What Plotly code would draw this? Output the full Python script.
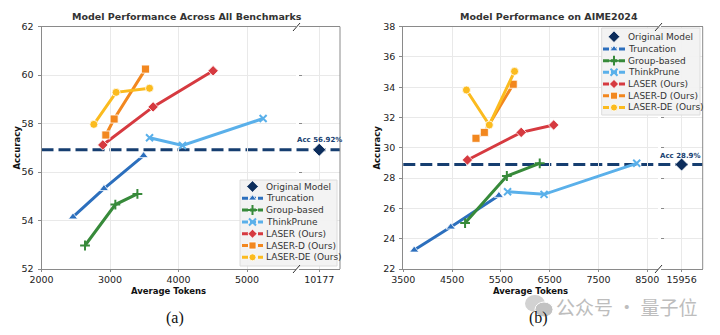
import plotly.graph_objects as go

W, H = 720, 335

# ---------------- data ----------------
SERIES = ["Truncation", "Group-based", "ThinkPrune", "LASER (Ours)", "LASER-D (Ours)", "LASER-DE (Ours)"]
COLORS = ["#2c6fbd", "#378a3a", "#5ab0ea", "#d63a40", "#f2871f", "#fbbb1f"]
SYMBOLS = ["triangle-up", "cross-thin", "x-thin", "diamond", "square", "circle"]
ORIG_NAME = "Original Model"

# Panel (a): all benchmarks
A_TRUNC_TOK = [2460, 2912, 3490]
A_TRUNC_ACC = [54.15, 55.32, 56.68]
A_GROUP_TOK = [2635, 3078, 3400]
A_GROUP_ACC = [52.97, 54.66, 55.10]
A_TP_TOK = [3577, 4058, 5235]
A_TP_ACC = [57.42, 57.10, 58.21]
A_LASER_TOK = [2895, 3629, 4505]
A_LASER_ACC = [57.12, 58.69, 60.18]
A_LASERD_TOK = [2939, 3060, 3518]
A_LASERD_ACC = [57.53, 58.19, 60.25]
A_LASERDE_TOK = [2764, 3089, 3577]
A_LASERDE_ACC = [57.97, 59.29, 59.46]
A_ORIG_TOK = 10177
A_ORIG_ACC = 56.92

# Panel (b): AIME2024
B_TRUNC_TOK = [3724, 4473, 5459]
B_TRUNC_ACC = [23.25, 24.77, 26.86]
B_GROUP_TOK = [4766, 5622, 6296]
B_GROUP_ACC = [25.03, 28.14, 28.98]
B_TP_TOK = [5637, 6385, 8284]
B_TP_ACC = [27.10, 26.93, 28.98]
B_LASER_TOK = [4814, 5916, 6582]
B_LASER_ACC = [29.20, 31.02, 31.51]
B_LASERD_TOK = [4990, 5161, 5753]
B_LASERD_ACC = [30.63, 31.02, 34.20]
B_LASERDE_TOK = [4794, 5263, 5780]
B_LASERDE_ACC = [33.82, 31.51, 35.05]
B_ORIG_TOK = 15956
B_ORIG_ACC = 28.9

A_XTICKS = [2000, 3000, 4000, 5000]
A_YTICKS = [52, 54, 56, 58, 60, 62]
B_XTICKS = [3500, 4500, 5500, 6500, 7500, 8500]
B_YTICKS = [22, 24, 26, 28, 30, 32, 34, 36, 38]

A_TITLE = "Model Performance Across All Benchmarks"
B_TITLE = "Model Performance on AIME2024"

A_DATA = [(A_TRUNC_TOK, A_TRUNC_ACC), (A_GROUP_TOK, A_GROUP_ACC), (A_TP_TOK, A_TP_ACC),
          (A_LASER_TOK, A_LASER_ACC), (A_LASERD_TOK, A_LASERD_ACC), (A_LASERDE_TOK, A_LASERDE_ACC)]
B_DATA = [(B_TRUNC_TOK, B_TRUNC_ACC), (B_GROUP_TOK, B_GROUP_ACC), (B_TP_TOK, B_TP_ACC),
          (B_LASER_TOK, B_LASER_ACC), (B_LASERD_TOK, B_LASERD_ACC), (B_LASERDE_TOK, B_LASERDE_ACC)]

# ---------------- layout helpers ----------------
FONT = "DejaVu Sans"
NAVY = "#0c2d5c"
DASHC = "#163e70"
SPINE = "#8a8a8a"
GRID = "#e9e9e9"

def px(x):
    return x / W

def py(y):
    return 1 - y / H

fig = go.Figure()

def add_series(data, xa, ya):
    for (tok, acc), name, col, sym in zip(data, SERIES, COLORS, SYMBOLS):
        thin = sym.endswith("thin")
        fig.add_trace(go.Scatter(
            x=tok, y=acc, mode="lines+markers", name=name, showlegend=False,
            xaxis=xa, yaxis=ya,
            line=dict(color=col, width=3),
            marker=dict(symbol=sym, size=8 if not thin else 7, color=col,
                        line=dict(color=col if thin else "white", width=2 if thin else 0.8)),
        ))

add_series(A_DATA, "x", "y")
add_series(B_DATA, "x3", "y3")

for tok, acc, xa, ya in [(A_ORIG_TOK, A_ORIG_ACC, "x2", "y2"), (B_ORIG_TOK, B_ORIG_ACC, "x4", "y4")]:
    fig.add_trace(go.Scatter(x=[tok], y=[acc], mode="markers", name=ORIG_NAME, showlegend=False,
                             xaxis=xa, yaxis=ya,
                             marker=dict(symbol="diamond", size=10, color=NAVY,
                                         line=dict(color="white", width=0.8))))

tickfont = dict(family=FONT, size=9.5, color="#222")
Ydom = [py(269), py(26.7)]

def xaxis(dom, rng, ticks, anchor):
    return dict(domain=dom, range=rng, tickvals=ticks, ticktext=[str(t) for t in ticks],
                showgrid=True, gridcolor=GRID, gridwidth=1, zeroline=False, automargin=False,
                showline=True, linecolor=SPINE, linewidth=1, mirror=True,
                ticks="outside", ticklen=2, tickcolor=SPINE, tickfont=tickfont, anchor=anchor)

def yaxis(rng, ticks, anchor, main=True, match=None):
    d = dict(domain=Ydom, range=rng, tickvals=ticks, showgrid=True, gridcolor=GRID, gridwidth=1,
             zeroline=False, anchor=anchor, tickfont=tickfont, automargin=False)
    if main:
        d.update(showline=True, linecolor=SPINE, linewidth=1, ticks="outside", ticklen=3,
                 tickcolor=SPINE, ticklabelstandoff=2)
    else:
        d.update(showline=False, showticklabels=False, ticks="inside", ticklen=3, tickcolor=SPINE)
    if match:
        d["matches"] = match
    return d

A_main = [px(41.5), px(296)]
A_sub = [px(298.5), px(340)]
B_main = [px(403.3), px(658)]
B_sub = [px(660.5), px(702.7)]

fig.update_layout(
    width=W, height=H, margin=dict(l=0, r=0, t=0, b=0, autoexpand=False),
    paper_bgcolor="white", plot_bgcolor="rgba(0,0,0,0)", showlegend=False,
    font=dict(family=FONT, color="#222"),
    xaxis=xaxis(A_main, [2000, 5715], A_XTICKS, "y"),
    yaxis=yaxis([52, 62], A_YTICKS, "x"),
    xaxis2=xaxis(A_sub, [A_ORIG_TOK - 300, A_ORIG_TOK + 300], [A_ORIG_TOK], "y2"),
    yaxis2=yaxis([52, 62], A_YTICKS, "x2", main=False, match="y"),
    xaxis3=xaxis(B_main, [3500, 8720], B_XTICKS, "y3"),
    yaxis3=yaxis([22, 38], B_YTICKS, "x3"),
    xaxis4=xaxis(B_sub, [B_ORIG_TOK - 300, B_ORIG_TOK + 300], [B_ORIG_TOK], "y4"),
    yaxis4=yaxis([22, 38], B_YTICKS, "x4", main=False, match="y3"),
    xaxis5=dict(domain=[0, 1], range=[0, W], visible=False, anchor="y5", automargin=False),
    yaxis5=dict(domain=[0, 1], range=[H, 0], visible=False, anchor="x5", automargin=False),
)

shapes = []
# right spines of the broken-axis stubs and break marks
for xs, ys in [("x2 domain", "y2 domain"), ("x4 domain", "y4 domain")]:
    shapes.append(dict(type="line", xref=xs, yref=ys, x0=1, x1=1, y0=0, y1=1,
                       line=dict(color=SPINE, width=1)))
for bx in [297, 659]:
    for (ya, yb) in [(31, 23), (273, 265)]:
        shapes.append(dict(type="line", xref="paper", yref="paper",
                           x0=px(bx - 4), x1=px(bx + 3), y0=py(ya), y1=py(yb),
                           line=dict(color="#333", width=1)))
# baseline dashed lines (original model accuracy)
for acc, yref, x0, x1 in [(A_ORIG_ACC, "y", 41.5, 340), (B_ORIG_ACC, "y3", 403.3, 702.7)]:
    shapes.append(dict(type="line", xref="paper", yref=yref, x0=px(x0), x1=px(x1), y0=acc, y1=acc,
                       layer="below", line=dict(color=DASHC, width=3, dash="12px,5px")))
# watermark icon (two chat bubbles)
shapes.append(dict(type="circle", xref="paper", yref="paper", x0=px(525), x1=px(545), y0=py(312), y1=py(295),
                   fillcolor="#d2d2d2", line=dict(width=0), layer="above"))
shapes.append(dict(type="circle", xref="paper", yref="paper", x0=px(535), x1=px(553), y0=py(317), y1=py(302),
                   fillcolor="#c2c2c2", line=dict(color="white", width=1), layer="above"))
fig.update_layout(shapes=shapes)

# ---------------- manual legends ----------------
def legend(box, rows_y, lx0, lx1, tx):
    x0, y0, x1, y1 = box
    fig.add_trace(go.Scatter(x=[x0, x1, x1, x0, x0], y=[y0, y0, y1, y1, y0], xaxis="x5", yaxis="y5",
                             mode="lines", fill="toself", fillcolor="rgba(242,242,242,0.92)",
                             line=dict(color="#dcdcdc", width=1), hoverinfo="skip", showlegend=False))
    names = [ORIG_NAME] + SERIES
    cols = [NAVY] + COLORS
    syms = ["diamond"] + SYMBOLS
    for i, (nm, c, s) in enumerate(zip(names, cols, syms)):
        yc = rows_y[i]
        xm = (lx0 + lx1) / 2
        if i > 0:
            fig.add_trace(go.Scatter(x=[lx0, lx1], y=[yc, yc], xaxis="x5", yaxis="y5", mode="lines",
                                     line=dict(color=c, width=3, dash="6px,2px"), hoverinfo="skip", showlegend=False))
        thin = s.endswith("thin")
        fig.add_trace(go.Scatter(x=[xm], y=[yc], xaxis="x5", yaxis="y5", mode="markers",
                                 marker=dict(symbol=s, size=(9 if i == 0 else 7), color=c,
                                             line=dict(color=c if thin else "white", width=2 if thin else 0.8)),
                                 hoverinfo="skip", showlegend=False))
        fig.add_annotation(x=px(tx), y=py(yc), xref="paper", yref="paper", text=nm, showarrow=False,
                           xanchor="left", yanchor="middle", borderpad=0,
                           font=dict(family=FONT, size=9, color="#333"))

legend((240, 180, 337, 266), [186.5, 198.3, 210, 222, 233.7, 245.5, 257.3], 242, 263, 265)
legend((601.7, 28, 700, 115), [36.7, 49, 60.7, 72.3, 84, 95.7, 107.5], 603, 625, 627)

# ---------------- text ----------------
def t(x, y, s, size, bold=False, color="#222", angle=0, fam=FONT):
    fig.add_annotation(x=px(x), y=py(y), xref="paper", yref="paper", showarrow=False,
                       text=f"<b>{s}</b>" if bold else s, textangle=angle,
                       xanchor="center", yanchor="middle", font=dict(family=fam, size=size, color=color))

t(186.5, 17, A_TITLE, 9.5, bold=True, color="#333")
t(548.7, 17, B_TITLE, 9.5, bold=True, color="#333")
t(168.5, 291, "Average Tokens", 8.5, bold=True, color="#111")
t(530.5, 291, "Average Tokens", 8.5, bold=True, color="#111")
t(16.5, 148, "Accuracy", 8.5, bold=True, color="#111", angle=-90)
t(376.5, 148, "Accuracy", 8.5, bold=True, color="#111", angle=-90)
t(319, 140.5, f"Acc {A_ORIG_ACC}%", 7, bold=True, color=DASHC)
t(680, 155.5, f"Acc {B_ORIG_ACC}%", 7, bold=True, color=DASHC)
t(627, 306.5, "公众号 · 量子位", 19, color="#bdbdbd", fam="Noto Sans CJK SC")
t(175, 317.5, "(a)", 16, fam="Liberation Serif", color="#111")
t(538, 317.5, "(b)", 16, fam="Liberation Serif", color="#111")

fig.write_html("out.html")
